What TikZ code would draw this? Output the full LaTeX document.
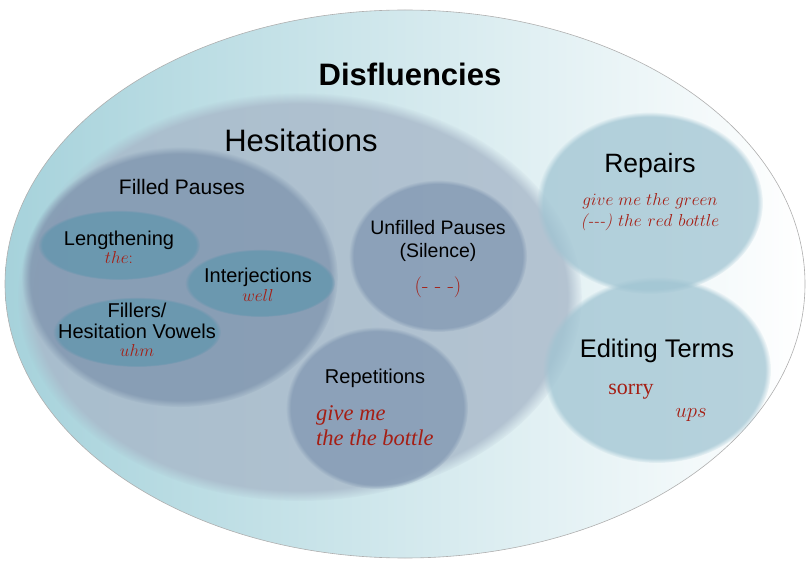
\documentclass[tikz,border=0pt]{standalone}
\usepackage{fontspec}
\newfontfamily\lab{Liberation Sans}
\newfontfamily\serifx{Liberation Serif}
\usetikzlibrary{fadings}
\pgfdeclareradialshading{softedgeshade}{\pgfpointorigin}{color(0bp)=(white); color(23.6bp)=(white); color(25bp)=(black); color(50bp)=(black)}
\pgfdeclarefading{softedge}{\pgfuseshading{softedgeshade}}
\definecolor{outerL}{RGB}{166,210,219}
\definecolor{outerB}{RGB}{175,175,175}
\definecolor{hesc}{RGB}{168,184,201}
\definecolor{fpc}{RGB}{128,150,175}
\definecolor{smallc}{RGB}{98,150,174}
\definecolor{upc}{RGB}{132,154,180}
\definecolor{repc}{RGB}{132,154,180}
\definecolor{rightc}{RGB}{160,196,210}
\definecolor{redt}{RGB}{165,30,20}
\tikzset{
  x=1pt, y=-1pt,
  blob/.style={path fading=softedge},
  head/.style={font=\lab\fontsize{31}{34}\selectfont, text=black},
  mid/.style={font=\lab\fontsize{26.5}{30}\selectfont, text=black},
  lbl/.style={font=\lab\fontsize{20}{23}\selectfont, text=black, align=center, inner sep=0pt},
  ex/.style={font=\fontsize{18.5}{21}\selectfont, text=redt, align=center, inner sep=0pt},
}
\begin{document}
\begin{tikzpicture}
\useasboundingbox (0,0) rectangle (806,561);
% outer ellipse
\shade[left color=outerL, right color=white, draw=outerB, line width=0.6pt] (405,284) ellipse (400 and 274);
% hesitations
\fill[hesc, fill opacity=0.8, blob] (300,297) ellipse (282 and 204);
% right group
\fill[rightc, fill opacity=0.75, blob] (650,203) ellipse (113 and 91);
\fill[rightc, fill opacity=0.75, blob] (657,370) ellipse (114 and 93);
% filled pauses
\fill[fpc, fill opacity=0.8, blob] (180,277) ellipse (158 and 130);
\fill[smallc, fill opacity=0.75, blob] (119,245) ellipse (81 and 35);
\fill[smallc, fill opacity=0.75, blob] (260,283) ellipse (75 and 34);
\fill[smallc, fill opacity=0.75, blob] (137,332) ellipse (84 and 35);
% unfilled pauses, repetitions
\fill[upc, fill opacity=0.8, blob] (438,256) ellipse (89 and 76);
\fill[repc, fill opacity=0.8, blob] (377,408) ellipse (91 and 81);

% texts
\node[font=\lab\bfseries\fontsize{31}{34}\selectfont] (dis) at (410,74) {Disfluencies};
\node[head] (hes) at (301,140) {Hesitations};
\node[lbl, font=\lab\fontsize{21}{24}\selectfont] (fp) at (182,187) {Filled Pauses};
\node[lbl] (len) at (119,240) {Lengthening};
\node[ex] (lenx) at (119,258) {$the{:}$};
\node[lbl] (int) at (258,277) {Interjections};
\node[ex] (intx) at (258,296) {$well$};
\node[lbl] (fil) at (137,310) {Fillers/};
\node[lbl] (filb) at (137,331) {Hesitation Vowels};
\node[ex] (filx) at (137,350) {$uhm$};
\node[lbl, font=\lab\fontsize{19.5}{23}\selectfont] (up) at (438,228) {Unfilled Pauses};
\node[lbl, font=\lab\fontsize{19.5}{23}\selectfont] (upb) at (438,252) {(Silence)};
\node[ex, font=\fontsize{21}{24}\selectfont] (upx) at (438,287) {(- - -)};
\node[lbl] (rep) at (375,378) {Repetitions};
\node[ex, font=\serifx\itshape\fontsize{22.5}{26}\selectfont, anchor=west] (repx) at (316,415) {give me};
\node[ex, font=\serifx\itshape\fontsize{22.5}{26}\selectfont, anchor=west] (repy) at (316,438) {the the bottle};
\node[mid] (rp) at (650,166) {Repairs};
\node[ex, font=\fontsize{17}{20}\selectfont] (rpx) at (650,201) {$give\ me\ the\ green$};
\node[ex, font=\fontsize{17}{20}\selectfont] (rpy) at (650,222) {\itshape(-{}-{}-) $the\ red\ bottle$};
\node[mid, font=\lab\fontsize{25.5}{29}\selectfont] (ed) at (657,351) {Editing Terms};
\node[ex, font=\serifx\fontsize{22}{25}\selectfont] (edx) at (631,392) {sorry};
\node[ex, font=\fontsize{20}{23}\selectfont] (edy) at (691,415) {$ups$};
\end{tikzpicture}
\end{document}
